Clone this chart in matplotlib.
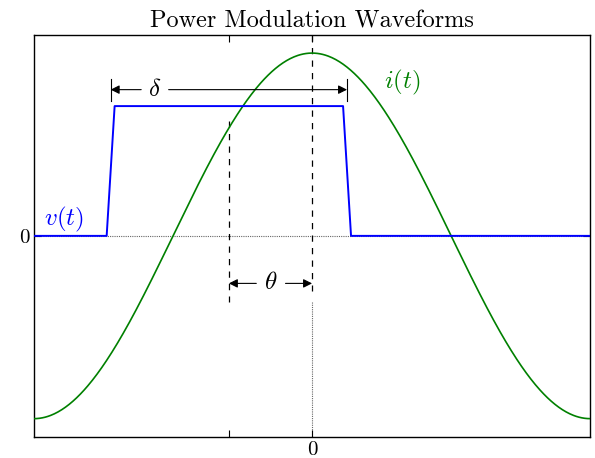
import numpy as np
import matplotlib
matplotlib.use('Agg')
import matplotlib.pyplot as plt

plt.rcParams['mathtext.fontset'] = 'cm'
plt.rcParams['font.family'] = 'serif'
plt.rcParams['font.serif'] = ['cmr10', 'DejaVu Serif']
plt.rcParams['axes.formatter.use_mathtext'] = True

# values
theta = 0.94          # phase shift of the voltage pulse
delta = 2.67          # pulse width (measured between ramp midpoints)
ramp = 0.09           # rise / fall time
v_level = 0.71        # pulse height
x_ticks = [-theta, 0]
x_ticklabels = ['', '0']
y_ticks = [0]
y_ticklabels = ['0']

t = np.linspace(-np.pi, np.pi, 600)
i_t = np.cos(t)

left = -theta - delta / 2
right = -theta + delta / 2
v_x = [-np.pi, left - ramp / 2, left + ramp / 2, right - ramp / 2, right + ramp / 2, np.pi]
v_y = [0, 0, v_level, v_level, 0, 0]

fig = plt.figure(figsize=(5.95, 4.58), dpi=100)
ax = fig.add_axes([0.057, 0.046, 0.935, 0.878])

ax.axhline(0, color='0.4', lw=0.8, ls=(0, (1, 1)), zorder=1)
ax.plot([0, 0], [-0.36, -1.1], color='0.4', lw=0.8, ls=(0, (1, 1)), zorder=1)
ax.plot([0, 0], [1.1, -0.3], color='k', lw=0.9, ls=(0, (5, 5)), zorder=1)
ax.plot([-theta, -theta], [0.63, -0.36], color='k', lw=0.9, ls=(0, (5, 5)), zorder=1)

ax.plot(t, i_t, color='#008000', lw=1.2, zorder=3)
ax.plot(v_x, v_y, color='#0000ff', lw=1.4, zorder=4)

# delta dimension
yd = 0.80
ax.text(-1.78, yd, r'$\delta$', fontsize=18, ha='center', va='center')
arr = dict(arrowstyle='-|>', color='k', lw=0.8, mutation_scale=13, shrinkA=0, shrinkB=0)
ax.annotate('', xy=(left, yd), xytext=(-1.93, yd), arrowprops=arr)
ax.annotate('', xy=(right, yd), xytext=(-1.62, yd), arrowprops=arr)
ax.plot([left, left], [yd - 0.06, yd + 0.06], color='k', lw=0.8)
ax.plot([right, right], [yd - 0.06, yd + 0.06], color='k', lw=0.8)

# theta dimension
yt = -0.26
ax.text(-0.47, yt, r'$\theta$', fontsize=18, ha='center', va='center')
ax.annotate('', xy=(-theta, yt), xytext=(-0.63, yt), arrowprops=arr)
ax.annotate('', xy=(0, yt), xytext=(-0.30, yt), arrowprops=arr)

ax.text(-2.80, 0.09, r'$v(t)$', color='#0000ff', fontsize=18, ha='center', va='center')
ax.text(1.02, 0.84, r'$i(t)$', color='#008000', fontsize=18, ha='center', va='center')

ax.set_xlim(-np.pi, np.pi)
ax.set_ylim(-1.1, 1.1)
ax.set_xticks(x_ticks)
ax.set_xticklabels(x_ticklabels)
ax.set_yticks(y_ticks)
ax.set_yticklabels(y_ticklabels)
ax.tick_params(direction='in', top=True, right=True, labelsize=15, length=5, pad=3)
for s in ax.spines.values():
    s.set_linewidth(1.0)

ax.set_title('Power Modulation Waveforms', fontsize=17.5, pad=5)

fig.savefig('out.png', dpi=100)
